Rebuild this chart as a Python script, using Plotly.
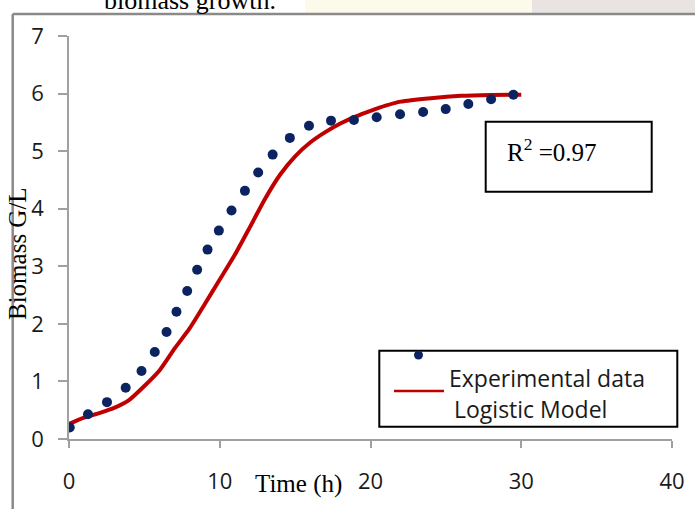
import plotly.graph_objects as go

# ---- data ----
exp_time = [0.05, 1.26, 2.52, 3.76, 4.81, 5.69, 6.47, 7.13, 7.84, 8.5, 9.19, 9.94,
            10.78, 11.67, 12.55, 13.51, 14.65, 15.92, 17.38, 18.9, 20.41, 21.96,
            23.49, 24.99, 26.49, 28.0, 29.48]
exp_biomass = [0.2, 0.43, 0.64, 0.89, 1.18, 1.51, 1.86, 2.21, 2.57, 2.94, 3.29, 3.62,
               3.97, 4.31, 4.63, 4.94, 5.23, 5.44, 5.53, 5.54, 5.59, 5.64,
               5.68, 5.73, 5.82, 5.9, 5.98]
model_time = [0, 1, 2, 3, 4, 5, 6, 7, 8, 9, 10, 11, 12, 13, 14, 15, 16, 17, 18, 19,
              20, 21, 22, 24, 26, 28, 30]
model_biomass = [0.26, 0.37, 0.45, 0.54, 0.68, 0.92, 1.19, 1.57, 1.92, 2.34, 2.77, 3.2,
                 3.68, 4.17, 4.59, 4.91, 5.15, 5.33, 5.48, 5.6, 5.7, 5.79, 5.86, 5.92,
                 5.96, 5.975, 5.98]
x_ticks = [0, 10, 20, 30, 40]
y_ticks = [0, 1, 2, 3, 4, 5, 6, 7]
legend_labels = ["Experimental data", "Logistic Model"]
r2_text = "R<sup>2</sup> =0.97"
title_text = "biomass growth."
x_title = "Time (h)"
y_title = "Biomass G/L"

# ---- layout geometry (pixels) ----
W, H = 695, 509
L, R, T, B = 69, 23, 36, 70
X0, X1 = L, W - R
YT, YB = T, H - B


def px(x):
    return (x - X0) / (X1 - X0)


def py(y):
    return (YB - y) / (YB - YT)


NAVY = "#0b2461"
RED = "#c00000"
AXIS = "#a0a0a0"
SERIF = "Liberation Serif, Times New Roman, serif"
SANS = "Open Sans, Carlito, Calibri, sans-serif"

fig = go.Figure()
fig.add_trace(go.Scatter(x=model_time, y=model_biomass, mode="lines",
                         line=dict(color=RED, width=4, shape="spline", smoothing=0.6),
                         name=legend_labels[1], showlegend=False, hoverinfo="skip"))
fig.add_trace(go.Scatter(x=exp_time, y=exp_biomass, mode="markers",
                         marker=dict(color=NAVY, size=10),
                         name=legend_labels[0], showlegend=False))

shapes = [
    # background strips at the very top (scanned page remnants)
    dict(type="rect", xref="paper", yref="paper", x0=px(305), x1=px(532), y0=py(13), y1=py(-5),
         fillcolor="#fcfaeb", line=dict(width=0), layer="below"),
    dict(type="rect", xref="paper", yref="paper", x0=px(532), x1=px(700), y0=py(13), y1=py(-5),
         fillcolor="#e9e4e2", line=dict(width=0), layer="below"),
    # outer chart border
    dict(type="line", xref="paper", yref="paper", x0=px(12.7), x1=px(700), y0=py(14), y1=py(14),
         line=dict(color="#8a8a8a", width=2.5)),
    dict(type="line", xref="paper", yref="paper", x0=px(12.7), x1=px(12.7), y0=py(14), y1=py(515),
         line=dict(color="#8a8a8a", width=2.5)),
    # R^2 box
    dict(type="rect", xref="paper", yref="paper", x0=px(485.7), x1=px(651.7), y0=py(191.7), y1=py(121.7),
         line=dict(color="black", width=2), fillcolor="rgba(0,0,0,0)"),
    # legend box
    dict(type="rect", xref="paper", yref="paper", x0=px(379.3), x1=px(677.3), y0=py(426.7), y1=py(350.7),
         line=dict(color="black", width=2), fillcolor="white"),
    # legend symbols
    dict(type="circle", xref="paper", yref="paper", x0=px(414), x1=px(423), y0=py(359.5), y1=py(350.5),
         fillcolor=NAVY, line=dict(width=0)),
    dict(type="line", xref="paper", yref="paper", x0=px(394), x1=px(444), y0=py(391), y1=py(391),
         line=dict(color=RED, width=2.5)),
]

annotations = [
    dict(text=title_text, xref="paper", yref="paper", x=px(190), y=py(1), showarrow=False,
         xanchor="center", yanchor="middle", font=dict(family=SERIF, size=26, color="black")),
    dict(text=r2_text, xref="paper", yref="paper", x=px(505), y=py(150), showarrow=False,
         xanchor="left", yanchor="middle", font=dict(family=SERIF, size=25, color="black")),
    dict(text=legend_labels[0], xref="paper", yref="paper", x=px(447), y=py(378), showarrow=False,
         xanchor="left", yanchor="middle", font=dict(family=SANS, size=23, color="#1a1a1a")),
    dict(text=legend_labels[1], xref="paper", yref="paper", x=px(451.5), y=py(409), showarrow=False,
         xanchor="left", yanchor="middle", font=dict(family=SANS, size=23, color="#1a1a1a")),
    dict(text=x_title, xref="paper", yref="paper", x=px(298), y=py(484), showarrow=False,
         xanchor="center", yanchor="middle", font=dict(family=SERIF, size=25, color="black")),
    dict(text=y_title, xref="paper", yref="paper", x=px(17), y=py(254), showarrow=False,
         textangle=-90, xanchor="center", yanchor="middle",
         font=dict(family=SERIF, size=25, color="black")),
]

fig.update_layout(
    width=W, height=H,
    margin=dict(l=L, r=R, t=T, b=B, pad=0, autoexpand=False),
    paper_bgcolor="white", plot_bgcolor="white",
    showlegend=False,
    shapes=shapes, annotations=annotations,
    xaxis=dict(range=[0, 40], tickvals=x_ticks, showgrid=False, zeroline=False,
               showline=True, linecolor=AXIS, linewidth=1.5,
               ticks="outside", ticklen=7, tickcolor=AXIS, tickwidth=1.5,
               ticklabelstandoff=15, automargin=False,
               tickfont=dict(family=SANS, size=22, color="#1a1a1a")),
    yaxis=dict(range=[0, 7], tickvals=y_ticks, showgrid=False, zeroline=False,
               showline=True, linecolor=AXIS, linewidth=1.5,
               ticks="outside", ticklen=9, tickcolor=AXIS, tickwidth=1.5,
               ticklabelstandoff=10, automargin=False,
               tickfont=dict(family=SANS, size=22, color="#1a1a1a")),
)

fig.write_html("out.html", config={"displayModeBar": False},
               post_script="document.body.style.margin='0';")
